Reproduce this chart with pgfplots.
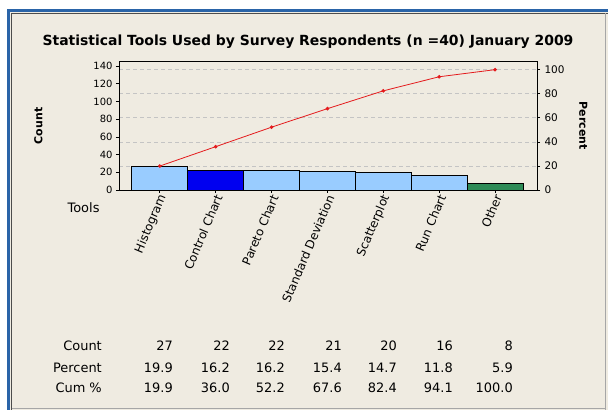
\documentclass[border=0pt]{standalone}
\usepackage{pgfplots}
\pgfplotsset{compat=1.18}
\usepackage{fontspec}
\setmainfont{DejaVu Sans}
\definecolor{bg}{HTML}{EFEBE1}
\definecolor{frameblue}{HTML}{2A64A8}
\definecolor{lblue}{HTML}{99CCFF}
\definecolor{dblue}{HTML}{0000F0}
\definecolor{sgreen}{HTML}{2E8B57}
\definecolor{lred}{HTML}{E41A1C}
\definecolor{gridgray}{HTML}{C4C4C4}
\pgfplotsset{paretobase/.style={at={(119bp,220bp)}, anchor=south west, scale only axis,
  width=418bp, height=128.3bp, xmin=-0.73, xmax=6.75}}
\begin{document}
\begin{tikzpicture}
\path[use as bounding box] (0bp,0bp) rectangle (608bp,410bp);
\fill[white] (0bp,0bp) rectangle (608bp,410bp);
\fill[bg] (10bp,0bp) rectangle (608bp,399bp);
\draw[frameblue, line width=2.5bp] (8.5bp,0bp) -- (8.5bp,399.5bp) -- (608bp,399.5bp);
\draw[black!70, line width=0.8bp] (11.5bp,0bp) -- (11.5bp,397bp) -- (608bp,397bp);
\draw[black!35, line width=0.8bp] (605.5bp,0bp) -- (605.5bp,397bp);
\draw[black!35, line width=0.8bp] (11.5bp,2bp) -- (605.5bp,2bp);
\node[font=\fontsize{14}{16}\selectfont\bfseries] at (308bp,368bp) {Statistical Tools Used by Survey Respondents (n =40) January 2009};
% right axis: grid and ticks
\begin{axis}[paretobase, ymin=0, ymax=106.62,
  axis y line*=right, axis x line=none,
  ytick={0,20,...,100}, ymajorgrids,
  grid style={gridgray, dash pattern=on 4bp off 3bp, line width=0.7bp},
  tick align=outside, major tick length=3bp,
  /pgf/number format/assume math mode=true,
  yticklabel style={font=\fontsize{10.5}{12}\selectfont, xshift=1bp},
  axis line style={line width=0.8bp},
  every tick/.style={black, line width=0.7bp},
  ylabel={\textbf{Percent}}, ylabel style={font=\fontsize{11}{13}\selectfont, rotate=180},
  ylabel shift=8bp,
]
\addplot[draw=none] coordinates {(0,0)};
\end{axis}
% left axis: bars
\begin{axis}[paretobase, ymin=0, ymax=145,
  ytick={0,20,...,140}, xtick={0,...,6},
  xticklabels={Histogram,Control Chart,Pareto Chart,Standard Deviation,Scatterplot,Run Chart,Other},
  xtick pos=lower, ytick pos=left,
  tick align=outside, major tick length=3bp,
  /pgf/number format/assume math mode=true,
  yticklabel style={font=\fontsize{10}{12}\selectfont},
  xticklabel style={font=\fontsize{12}{14}\selectfont, rotate=67, anchor=east, inner sep=1bp, yshift=-4bp},
  axis line style={line width=0.8bp},
  every tick/.style={black, line width=0.7bp},
  ylabel={\textbf{Count}}, ylabel style={font=\fontsize{11}{13}\selectfont},
  ylabel shift=44bp,
]
\addplot[ybar, bar width=1, bar shift=0, fill=lblue, draw=black, line width=0.8bp]
  coordinates {(0,27) (2,22) (3,21) (4,20) (5,16)};
\addplot[ybar, bar width=1, bar shift=0, fill=dblue, draw=black, line width=0.8bp]
  coordinates {(1,22)};
\addplot[ybar, bar width=1, bar shift=0, fill=sgreen, draw=black, line width=0.8bp]
  coordinates {(6,8)};
\end{axis}
% cumulative line
\begin{axis}[paretobase, ymin=0, ymax=106.62, hide axis]
\addplot[lred, line width=0.8bp, mark=*, mark size=1.4bp]
  coordinates {(0,19.9) (1,36.0) (2,52.2) (3,67.6) (4,82.4) (5,94.1) (6,100.0)};
\end{axis}
\node[anchor=east, font=\fontsize{13}{15}\selectfont] at (103bp,202bp) {Tools};
\begin{scope}[every node/.style={anchor=east, font=\fontsize{13}{15}\selectfont, inner sep=0pt}]
\node at (102bp,64.3bp) {Count};
\node at (102bp,42.3bp) {Percent};
\node at (102bp,22.3bp) {Cum \%};
\node at (173bp,64.3bp) {27};   \node at (173bp,42.3bp) {19.9}; \node at (173bp,22.3bp) {19.9};
\node at (230bp,64.3bp) {22};   \node at (230bp,42.3bp) {16.2}; \node at (230bp,22.3bp) {36.0};
\node at (285bp,64.3bp) {22};   \node at (285bp,42.3bp) {16.2}; \node at (285bp,22.3bp) {52.2};
\node at (342bp,64.3bp) {21};   \node at (342bp,42.3bp) {15.4}; \node at (342bp,22.3bp) {67.6};
\node at (397bp,64.3bp) {20};   \node at (397bp,42.3bp) {14.7}; \node at (397bp,22.3bp) {82.4};
\node at (453bp,64.3bp) {16};   \node at (453bp,42.3bp) {11.8}; \node at (453bp,22.3bp) {94.1};
\node at (513bp,64.3bp) {8};    \node at (513bp,42.3bp) {5.9};  \node at (513bp,22.3bp) {100.0};
\end{scope}
\end{tikzpicture}
\end{document}
